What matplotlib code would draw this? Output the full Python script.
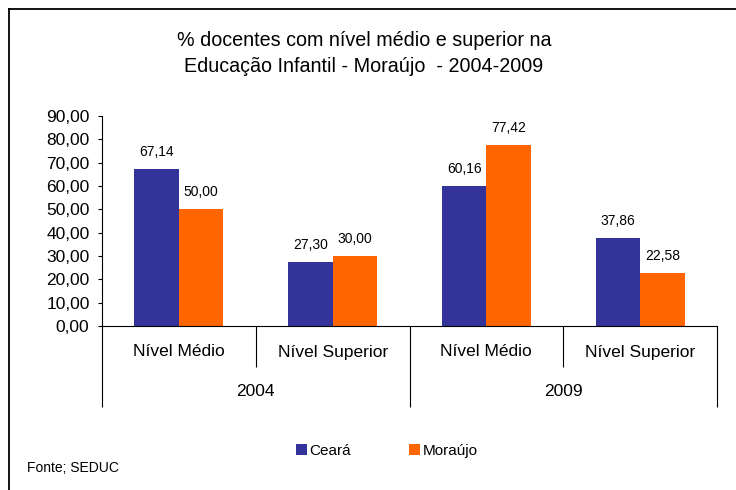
import matplotlib
matplotlib.use('Agg')
import matplotlib.pyplot as plt
import numpy as np
from matplotlib.lines import Line2D

plt.rcParams['font.family'] = ['Liberation Sans', 'DejaVu Sans']

categories = ['Nível Médio', 'Nível Superior', 'Nível Médio', 'Nível Superior']
years = ['2004', '2009']
ceara = [67.14, 27.30, 60.16, 37.86]
moraujo = [50.00, 30.00, 77.42, 22.58]
yticks = [0, 10, 20, 30, 40, 50, 60, 70, 80, 90]
title_lines = ['% docentes com nível médio e superior na',
               'Educação Infantil - Moraújo  - 2004-2009']

W, H = 736, 490


def fmt(v):
    return f'{v:.2f}'.replace('.', ',')


fig = plt.figure(figsize=(W / 100, H / 100), dpi=100)
fig.patch.set_facecolor('white')
ax = fig.add_axes([102 / W, 1 - 326 / H, 615 / W, 210 / H])

x = np.arange(len(categories))
w = 0.29
ax.bar(x - w / 2, ceara, w, color='#333399', label='Ceará')
ax.bar(x + w / 2, moraujo, w, color='#FF6600', label='Moraújo')

for xi, v in zip(x - w / 2, ceara):
    ax.annotate(fmt(v), xy=(xi, v), xytext=(0, 17), textcoords='offset pixels',
                ha='center', va='center', fontsize=10)
for xi, v in zip(x + w / 2, moraujo):
    ax.annotate(fmt(v), xy=(xi, v), xytext=(0, 17), textcoords='offset pixels',
                ha='center', va='center', fontsize=10)

ax.set_xlim(-0.5, len(categories) - 0.5)
ax.set_ylim(0, 90)
ax.set_yticks(yticks)
ax.set_yticklabels([fmt(v) for v in yticks])
ax.tick_params(axis='y', length=3, width=0.8, labelsize=12.5, pad=6)

# two-level category axis: short separators between levels, long ones between years
ax.set_xticks([-0.5, 1.5, 3.5])
ax.set_xticklabels([])
ax.set_xticks([0.5, 2.5], minor=True)
ax.tick_params(axis='x', which='major', length=58.3, width=0.8)
ax.tick_params(axis='x', which='minor', length=29.5, width=0.8)

for s in ['top', 'right']:
    ax.spines[s].set_visible(False)
for s in ['left', 'bottom']:
    ax.spines[s].set_linewidth(0.8)

for i, c in enumerate(categories):
    ax.annotate(c, xy=(i, 0), xycoords=ax.get_xaxis_transform(), xytext=(0, -26),
                textcoords='offset pixels', ha='center', va='center', fontsize=12.5)
for j, yr in enumerate(years):
    ax.annotate(yr, xy=(2 * j + 0.5, 0), xycoords=ax.get_xaxis_transform(), xytext=(0, -66),
                textcoords='offset pixels', ha='center', va='center', fontsize=12.5)

fig.text(364 / W, 1 - 40 / H, title_lines[0], ha='center', va='center', fontsize=14.2)
fig.text(364 / W, 1 - 66 / H, title_lines[1], ha='center', va='center', fontsize=14.2)

fig.legend(loc='center', bbox_to_anchor=(387 / W, 1 - 451 / H), ncol=2, frameon=False,
           fontsize=11, handlelength=0.72, handleheight=0.72, handletextpad=0.15,
           columnspacing=3.8, borderpad=0)

fig.text(27 / W, 1 - 468 / H, 'Fonte; SEDUC', ha='left', va='center', fontsize=10)

# outer frame (only top and left edges are visible)
fig.add_artist(Line2D([9 / W, 1], [1 - 9 / H, 1 - 9 / H], color='black', lw=1.3))
fig.add_artist(Line2D([9 / W, 9 / W], [0, 1 - 9 / H], color='black', lw=1.3))

fig.savefig('out.png', dpi=100)
